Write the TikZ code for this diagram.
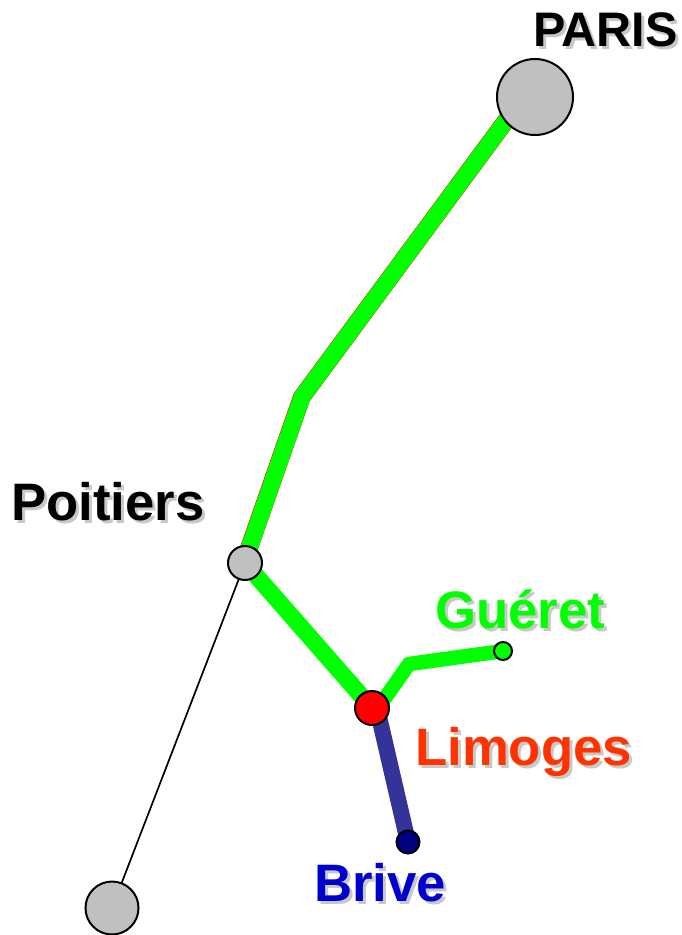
\documentclass[tikz,border=0pt]{standalone}
\usepackage{fontspec}
\setmainfont{Liberation Sans}
\definecolor{cityfill}{RGB}{192,192,192}
\definecolor{routegreen}{RGB}{0,255,0}
\definecolor{routeblue}{RGB}{51,51,153}
\definecolor{brivedark}{RGB}{0,0,128}
\definecolor{brivetext}{RGB}{0,0,204}
\definecolor{limogestext}{RGB}{255,51,0}
\definecolor{shadowgray}{RGB}{200,200,200}
\newcommand{\shadowtext}[2]{\leavevmode\rlap{\kern3pt\raisebox{-3pt}{\textcolor{shadowgray}{#2}}}\textcolor{#1}{#2}}
\tikzset{
  city/.style={circle,draw=black,line width=2pt,inner sep=0pt,minimum size=#1},
  lbl/.style={font=\bfseries\fontsize{52.7}{52.7}\selectfont,inner sep=0pt,anchor=base west},
  greenroute/.style={draw=routegreen,line width=#1,line join=round},
  blueroute/.style={draw=routeblue,line width=16pt},
  redfringe/.style={draw=red,line width=17.6pt,line join=round},
  thinroute/.style={draw=black,line width=1.7pt}
}
\begin{document}
\begin{tikzpicture}[x=1pt,y=-1pt]
\useasboundingbox (0,0) rectangle (681,935);
\coordinate (pcenter) at (535,97);
\coordinate (pend) at (525,95);
\coordinate (bend1) at (302,397);
\coordinate (pocenter) at (245,563);
\coordinate (poend) at (244,563);
\coordinate (lcenter) at (372,708);
\coordinate (lgend) at (378,708);
\coordinate (lbend) at (377,708);
\coordinate (bend2) at (409,664);
\coordinate (gcenter) at (503,651);
\coordinate (bcenter) at (408,842);
\coordinate (scenter) at (112,908);
\draw[redfringe,transform canvas={xshift=-0.3pt,yshift=-0.3pt}] (pend) -- (bend1) -- (poend);
\draw[greenroute=17pt] (pend) -- (bend1) -- (poend);
\draw[greenroute=17pt] (pocenter) -- (lcenter);
\draw[greenroute=14.5pt] (lgend) -- (bend2) -- (gcenter);
\draw[blueroute] (lbend) -- (bcenter);
\draw[thinroute] (pocenter) -- (scenter);
\node[city=76pt,fill=cityfill] (paris) at (pcenter) {};
\node[city=34pt,fill=cityfill] (poitiers) at (pocenter) {};
\node[city=34pt,fill=red] (limoges) at (lcenter) {};
\node[city=18pt,fill=routegreen] (gueret) at (gcenter) {};
\node[city=23pt,fill=brivedark] (brive) at (bcenter) {};
\node[city=53pt,fill=cityfill] (south) at (scenter) {};
\node[lbl,font=\bfseries\fontsize{48.5}{48.5}\selectfont] (tparis) at (533,46) {\shadowtext{black}{PARIS}};
\node[lbl] (tpoitiers) at (11,520) {\shadowtext{black}{Poitiers}};
\node[lbl] (tgueret) at (435,628) {\shadowtext{routegreen}{Guéret}};
\node[lbl] (tlimoges) at (415,765) {\shadowtext{limogestext}{Limoges}};
\node[lbl] (tbrive) at (314,901) {\shadowtext{brivetext}{Brive}};
\end{tikzpicture}
\end{document}
